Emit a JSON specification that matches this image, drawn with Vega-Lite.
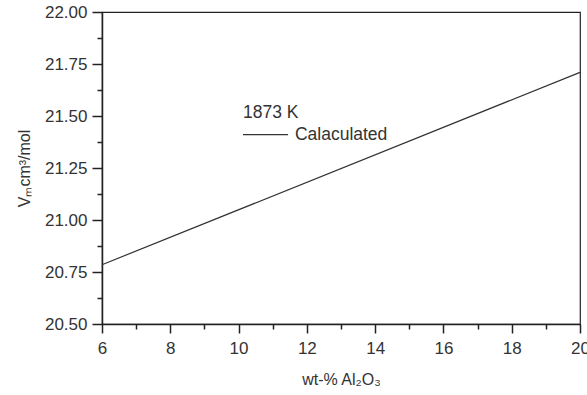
{
  "$schema": "https://vega.github.io/schema/vega-lite/v6.json",
  "width": 478,
  "height": 312,
  "autosize": {"type": "none"},
  "padding": {"left": 102, "top": 12, "right": 7, "bottom": 71},
  "background": "white",
  "config": {
    "view": {"stroke": "#222", "strokeWidth": 1.2},
    "font": "Liberation Sans"
  },
  "datasets": {
    "curve": [
      {"wt": 6, "vm": 20.785},
      {"wt": 20, "vm": 21.71}
    ],
    "key": [
      {"wt": 10.13, "wt2": 11.45, "vm": 21.41}
    ],
    "notes": [
      {"wt": 10.13, "vm": 21.514, "label": "1873 K"},
      {"wt": 11.65, "vm": 21.41, "label": "Calaculated"}
    ]
  },
  "encoding": {
    "x": {
      "field": "wt",
      "type": "quantitative",
      "scale": {"domain": [6, 20], "nice": false, "zero": false},
      "axis": {
        "title": "wt-% Al₂O₃",
        "values": [6, 7, 8, 9, 10, 11, 12, 13, 14, 15, 16, 17, 18, 19, 20],
        "labelExpr": "datum.value % 2 === 0 ? datum.label : ''",
        "tickSize": {"condition": {"test": "datum.value % 2 === 0", "value": 9}, "value": 5},
        "grid": false,
        "domainColor": "#222",
        "domainWidth": 1.5,
        "tickColor": "#222",
        "tickWidth": 1.5,
        "labelFontSize": 17,
        "labelColor": "#333",
        "labelPadding": 7,
        "labelFlush": false,
        "titleFontSize": 16,
        "titleFontWeight": "normal",
        "titleColor": "#333",
        "titlePadding": 15
      }
    },
    "y": {
      "field": "vm",
      "type": "quantitative",
      "scale": {"domain": [20.5, 22], "nice": false, "zero": false},
      "axis": {
        "title": "Vₘcm³/mol",
        "values": [20.5, 20.625, 20.75, 20.875, 21, 21.125, 21.25, 21.375, 21.5, 21.625, 21.75, 21.875, 22],
        "format": ".2f",
        "labelExpr": "(datum.value * 4) % 1 === 0 ? datum.label : ''",
        "tickSize": {"condition": {"test": "(datum.value * 4) % 1 === 0", "value": 10}, "value": 5},
        "grid": false,
        "domainColor": "#222",
        "domainWidth": 1.5,
        "tickColor": "#222",
        "tickWidth": 1.5,
        "labelFontSize": 17,
        "labelColor": "#333",
        "labelPadding": 5,
        "labelFlush": false,
        "titleFontSize": 16,
        "titleFontWeight": "normal",
        "titleColor": "#333",
        "titlePadding": 12
      }
    }
  },
  "layer": [
    {
      "data": {"name": "curve"},
      "mark": {"type": "line", "strokeWidth": 1.2, "color": "#333"}
    },
    {
      "data": {"name": "key"},
      "mark": {"type": "rule", "strokeWidth": 1.2, "color": "#333"},
      "encoding": {
        "x2": {"field": "wt2"}
      }
    },
    {
      "data": {"name": "notes"},
      "mark": {"type": "text", "align": "left", "baseline": "middle", "fontSize": 17.5, "color": "#333"},
      "encoding": {
        "text": {"field": "label", "type": "nominal"}
      }
    }
  ]
}
